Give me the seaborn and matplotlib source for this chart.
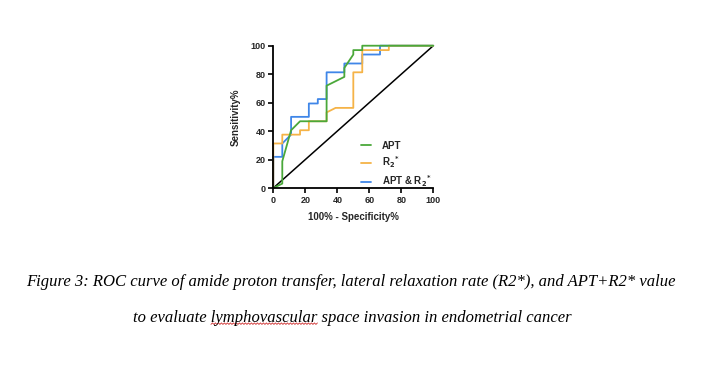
import numpy as np
import pandas as pd
import matplotlib
matplotlib.use("Agg")
import matplotlib.pyplot as plt
from matplotlib.lines import Line2D
import seaborn as sns

# ROC points (100% - specificity, sensitivity)
apt_x = [0, 5.6, 5.6, 11.1, 16.7, 33.3, 33.3, 44.4, 44.4, 50.0, 50.0, 55.6, 55.6, 100]
apt_y = [0, 3.1, 18.8, 40.6, 46.9, 46.9, 71.9, 78.1, 84.4, 93.8, 96.9, 96.9, 100, 100]

r2_x = [0, 0, 5.6, 5.6, 16.7, 16.7, 22.2, 22.2, 33.3, 33.3, 38.9, 50.0, 50.0, 55.6, 55.6, 72.2, 72.2, 100]
r2_y = [0, 31.3, 31.3, 37.5, 37.5, 40.6, 40.6, 46.9, 46.9, 53.1, 56.3, 56.3, 81.3, 81.3, 96.9, 96.9, 100, 100]

both_x = [0, 0, 5.6, 5.6, 11.1, 11.1, 22.2, 22.2, 27.8, 27.8, 33.3, 33.3, 44.4, 44.4, 55.6, 55.6, 66.7, 66.7, 100]
both_y = [0, 21.9, 21.9, 31.3, 37.5, 50.0, 50.0, 59.4, 59.4, 62.5, 62.5, 81.3, 81.3, 87.5, 87.5, 93.8, 93.8, 100, 100]

ref_x = [0, 100]
ref_y = [0, 100]

ticks = [0, 20, 40, 60, 80, 100]
c_apt = "#4aa83a"
c_r2 = "#f5b347"
c_both = "#3f86e8"

sns.set_theme(style="ticks")
plt.rcParams["font.family"] = ["Liberation Sans", "DejaVu Sans"]
plt.rcParams["font.weight"] = "bold"

fig = plt.figure(figsize=(7.05, 3.65), dpi=100)
ax = fig.add_axes([0.3877, 0.4849, 0.2269, 0.3899])

sns.lineplot(x=ref_x, y=ref_y, color="black", lw=1.1, estimator=None, sort=False, ax=ax)
sns.lineplot(x=both_x, y=both_y, color=c_both, lw=1.3, estimator=None, sort=False, ax=ax)
sns.lineplot(x=r2_x, y=r2_y, color=c_r2, lw=1.3, estimator=None, sort=False, ax=ax)
sns.lineplot(x=apt_x, y=apt_y, color=c_apt, lw=1.3, estimator=None, sort=False, ax=ax)
for ln in ax.lines:
    ln.set_clip_on(False)

ax.set_xlim(0, 100)
ax.set_ylim(0, 100)
ax.set_xticks(ticks)
ax.set_yticks(ticks)
ax.tick_params(labelsize=6.5, width=1.2, length=3.5, pad=2, color="black")
for lab in ax.get_xticklabels() + ax.get_yticklabels():
    lab.set_fontweight("bold")
for s in ["left", "bottom"]:
    ax.spines[s].set_linewidth(1.3)
    ax.spines[s].set_color("black")
sns.despine(ax=ax)
ax.set_xlabel("100% - Specificity%", fontsize=7, fontweight="bold", labelpad=5)
ax.set_ylabel("Sensitivity%", fontsize=7, fontweight="bold", labelpad=7)

handles = [Line2D([], [], color=c_apt, lw=1.3),
           Line2D([], [], color=c_r2, lw=1.3),
           Line2D([], [], color=c_both, lw=1.3)]
labels = ["APT", r"R$_\mathbf{2}$$^\mathbf{*}$", r"APT & R$_\mathbf{2}$$^\mathbf{*}$"]
leg = ax.legend(handles, labels, loc="lower left", bbox_to_anchor=(0.55, -0.005),
                frameon=False, fontsize=7, handlelength=0.95, handletextpad=1.2,
                labelspacing=0.35, borderpad=0, borderaxespad=0)
for t in leg.get_texts():
    t.set_fontweight("bold")

cap_kw = dict(family=["Liberation Serif", "DejaVu Serif"], style="italic",
              fontsize=12, ha="center", va="center", color="black", weight="normal")
fig.text(0.497, 0.227,
         "Figure 3: ROC curve of amide proton transfer, lateral relaxation rate (R2*), and APT+R2* value",
         **cap_kw)
line2 = "to evaluate lymphovascular space invasion in endometrial cancer"
t2 = fig.text(0.50, 0.129, line2, **cap_kw)

# red wavy spell-check underline under "lymphovascular"
fig.canvas.draw()
r = fig.canvas.get_renderer()
bb = t2.get_window_extent(r)
tmp = fig.text(0, 0, "to evaluate ", **cap_kw)
w_pre = tmp.get_window_extent(r).width
tmp.set_text("lymphovascular")
w_word = tmp.get_window_extent(r).width
tmp.remove()
x0 = bb.x0 + w_pre
xs = np.arange(x0, x0 + w_word, 1.5)
ys = bb.y0 + 1.5 + np.where(np.arange(len(xs)) % 2 == 0, 0.0, 1.5)
fx, fy = fig.transFigure.inverted().transform(np.column_stack([xs, ys])).T
fig.add_artist(Line2D(fx, fy, color="#d03030", lw=0.6, transform=fig.transFigure))

fig.savefig("out.png", dpi=100)
